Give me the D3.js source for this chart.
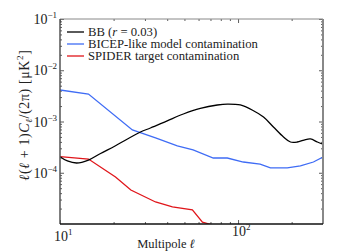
<!DOCTYPE html>
<html>
<head>
<meta charset="utf-8">
<script src="https://cdn.jsdelivr.net/npm/d3@7"></script>
<style>
  body { margin: 0; background: #fff; }
  svg { display: block; }
  text { font-family: "Liberation Serif", "DejaVu Serif", serif; fill: #222; }
</style>
</head>
<body>
<svg id="chart" width="360" height="252"></svg>
<script>
// multipole values and spectra
var ellBB = [10, 11, 12.4, 14.45, 16.9, 20.5, 28.3, 32.2, 40, 49.3, 61.4, 76.5, 87.1, 103, 120, 139, 158, 180, 197, 215, 235, 255, 279, 300];
var bb = [2.06e-4, 1.7e-4, 1.55e-4, 1.77e-4, 2.38e-4, 3.37e-4, 6.24e-4, 7.47e-4, 1.03e-3, 1.40e-3, 1.80e-3, 2.10e-3, 2.19e-3, 2.10e-3, 1.68e-3, 1.22e-3, 7.81e-4, 4.99e-4, 3.98e-4, 3.98e-4, 4.35e-4, 4.56e-4, 3.98e-4, 3.6e-4];

var ellBicep = [10, 14.45, 25.5, 34.4, 45.6, 55.9, 72.6, 87, 107, 133, 152, 189, 224, 265, 300];
var bicep = [4.12e-3, 3.44e-3, 6.83e-4, 4.77e-4, 3.33e-4, 2.78e-4, 1.94e-4, 1.94e-4, 1.62e-4, 1.48e-4, 1.24e-4, 1.24e-4, 1.36e-4, 1.62e-4, 2.03e-4];

var ellSpider = [10, 14.45, 20.5, 25, 34.4, 42.8, 55.4, 63.1, 71.8, 80];
var spider = [2.06e-4, 1.85e-4, 8.26e-5, 4.61e-5, 2.69e-5, 2.15e-5, 1.88e-5, 1.09e-5, 9.55e-6, 7e-6];

var xTicks = [10, 100];
var yTicks = [1e-4, 1e-3, 1e-2, 1e-1];
var yExp = ["\u22124", "\u22123", "\u22122", "\u22121"];
var xExp = ["1", "2"];

var pL = 60, pR = 323, pT = 19, pB = 224;

var svg = d3.select("#chart");
var x = d3.scaleLog().domain([10, 300]).range([pL, pR]);
var y = d3.scaleLog().domain([1e-5, 1e-1]).range([pB, pT]);

svg.append("defs").append("clipPath").attr("id", "clip")
  .append("rect").attr("x", pL).attr("y", pT)
  .attr("width", pR - pL).attr("height", pB - pT);

// minor tick values
var xMinor = [];
for (var d = 10; d < 300; d *= 10)
  for (var k = 2; k <= 9; k++) if (d * k <= 300) xMinor.push(d * k);
var yMinor = [];
for (var e = 1e-5; e < 1e-1 * 0.99; e *= 10)
  for (var k = 2; k <= 9; k++) yMinor.push(e * k);

function ticks(axis, tx, ty, vals, size) {
  var g = svg.append("g").attr("transform", "translate(" + tx + "," + ty + ")")
    .call(axis.tickValues(vals).tickSize(size).tickFormat(""));
  g.select(".domain").remove();
  g.selectAll("line").attr("stroke", "#333").attr("stroke-width", 0.8);
}
ticks(d3.axisBottom(x), 0, pB, xTicks, -4);
ticks(d3.axisBottom(x), 0, pB, xMinor, -2);
ticks(d3.axisTop(x), 0, pT, xTicks, -4);
ticks(d3.axisTop(x), 0, pT, xMinor, -2);
ticks(d3.axisLeft(y), pL, 0, yTicks, -4);
ticks(d3.axisLeft(y), pL, 0, yMinor, -2);
ticks(d3.axisRight(y), pR, 0, yTicks, -4);
ticks(d3.axisRight(y), pR, 0, yMinor, -2);

// curves
var plot = svg.append("g").attr("clip-path", "url(#clip)");
function curve(ells, vals, color, smooth) {
  var line = d3.line()
    .x(function(d, i) { return x(ells[i]); })
    .y(function(d) { return y(d); })
    .curve(smooth ? d3.curveCatmullRom.alpha(0.5) : d3.curveLinear);
  plot.append("path").datum(vals).attr("d", line)
    .attr("fill", "none").attr("stroke", color).attr("stroke-width", 1.3);
}
curve(ellBicep, bicep, "#3f6cf5", false);
curve(ellSpider, spider, "#e0151a", false);
curve(ellBB, bb, "#000", true);

// frame
svg.append("line").attr("x1", pL).attr("x2", pR).attr("y1", pT).attr("y2", pT)
  .attr("stroke", "#888").attr("stroke-width", 1);
svg.append("line").attr("x1", pR).attr("x2", pR).attr("y1", pT).attr("y2", pB)
  .attr("stroke", "#888").attr("stroke-width", 2);
svg.append("line").attr("x1", pL).attr("x2", pL).attr("y1", pT).attr("y2", pB)
  .attr("stroke", "#555").attr("stroke-width", 1.5);
svg.append("line").attr("x1", pL).attr("x2", pR).attr("y1", pB).attr("y2", pB)
  .attr("stroke", "#111").attr("stroke-width", 1.5);

// tick labels
yTicks.forEach(function(v, i) {
  var t = svg.append("text").attr("x", 57).attr("y", y(v) + 5)
    .attr("text-anchor", "end").attr("font-size", 14);
  t.append("tspan").text("10");
  t.append("tspan").attr("font-size", 9).attr("dy", -6).text(yExp[i]);
});
var xLabY = [241, 236];
xTicks.forEach(function(v, i) {
  var t = svg.append("text").attr("x", x(v) - 6).attr("y", xLabY[i])
    .attr("font-size", 14);
  t.append("tspan").text("10");
  t.append("tspan").attr("font-size", 9).attr("dy", -6).text(xExp[i]);
});

// axis titles
var xt = svg.append("text").attr("x", 166).attr("y", 248)
  .attr("text-anchor", "middle").attr("font-size", 12.5);
xt.append("tspan").text("Multipole ");
xt.append("tspan").attr("font-style", "italic").text("\u2113");

var yt = svg.append("text").attr("transform", "translate(29,115) rotate(-90)")
  .attr("text-anchor", "middle").attr("font-size", 14).attr("letter-spacing", 0.6);
yt.append("tspan").attr("font-style", "italic").text("\u2113");
yt.append("tspan").text("(");
yt.append("tspan").attr("font-style", "italic").text("\u2113");
yt.append("tspan").text(" + 1)");
yt.append("tspan").attr("font-style", "italic").text("C");
yt.append("tspan").attr("font-style", "italic").attr("font-size", 9).attr("dy", 3).text("\u2113");
yt.append("tspan").attr("dy", -3).text("/(2\u03c0) [\u03bcK");
yt.append("tspan").attr("font-size", 9).attr("dy", -6).text("2");
yt.append("tspan").attr("dy", 6).text("]");

// legend
var legend = [
  { color: "#000", parts: [["BB (", ""], ["r", "italic"], [" = 0.03)", ""]] },
  { color: "#3f6cf5", parts: [["BICEP-like model contamination", ""]] },
  { color: "#e0151a", parts: [["SPIDER target contamination", ""]] }
];
legend.forEach(function(item, i) {
  var ly = 32 + i * 12;
  svg.append("line").attr("x1", 67).attr("x2", 84).attr("y1", ly).attr("y2", ly)
    .attr("stroke", item.color).attr("stroke-width", 1.3);
  var t = svg.append("text").attr("x", 88).attr("y", ly + 4.3).attr("font-size", 12.7);
  item.parts.forEach(function(p) {
    t.append("tspan").attr("font-style", p[1] || null).text(p[0]);
  });
});
</script>
</body>
</html>
